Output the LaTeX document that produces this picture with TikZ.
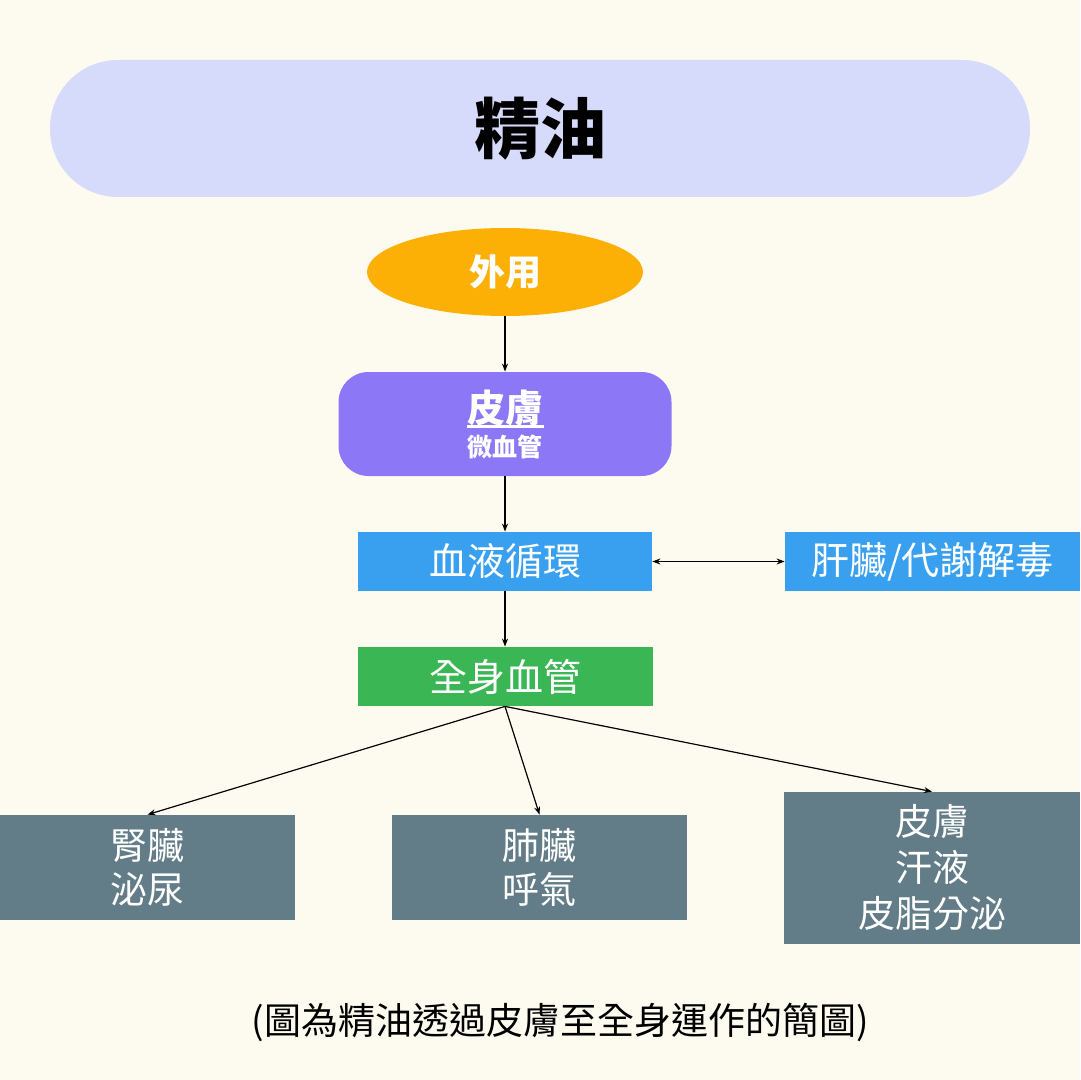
\documentclass[tikz,border=0pt]{standalone}
\usepackage{fontspec}
\setmainfont{Noto Sans CJK TC}
\usetikzlibrary{shapes.geometric,arrows.meta}
\definecolor{bgc}{HTML}{FDFBEF}
\definecolor{pillc}{HTML}{D6DAFB}
\definecolor{orangec}{HTML}{FCAF05}
\definecolor{purplec}{HTML}{8C77F7}
\definecolor{bluec}{HTML}{38A0EE}
\definecolor{greenc}{HTML}{3BB655}
\definecolor{grayc}{HTML}{627D87}
\tikzset{
  box/.style={rectangle, inner sep=0pt, text=white, align=center, font=\fontsize{19pt}{22pt}\selectfont},
  outbox/.style={box, fill=grayc, minimum width=147.5pt, minimum height=52.5pt, font=\fontsize{18.5pt}{22pt}\selectfont},
  arr/.style={-{Stealth[length=4pt,width=3pt]}, line width=0.6pt, black},
  darr/.style={{Stealth[length=4pt,width=3pt]}-{Stealth[length=4pt,width=3pt]}, line width=0.6pt, black}
}
\begin{document}
\begin{tikzpicture}[x=0.5pt,y=-0.5pt]
\fill[bgc] (0,0) rectangle (1080,1080);
\useasboundingbox (0,0) rectangle (1080,1080);
\node[rectangle, fill=pillc, rounded corners=34pt, minimum width=490pt, minimum height=68.5pt, inner sep=0pt, font=\fontsize{33pt}{36pt}\selectfont\bfseries] (title) at (540,128.5) {精油};
\node[ellipse, fill=orangec, minimum width=138pt, minimum height=44pt, inner sep=0pt, text=white, font=\fontsize{18pt}{20pt}\selectfont\bfseries] (ext) at (505,272) {外用};
\node[box, fill=purplec, rounded corners=15pt, minimum width=166.5pt, minimum height=52pt] (skin) at (505,424) {{\fontsize{19pt}{22pt}\selectfont\bfseries\rlap{\rule[-3pt]{38.5pt}{1.3pt}}皮膚}\\[-5pt]{\fontsize{12.5pt}{15pt}\selectfont\bfseries 微血管}};
\node[box, fill=bluec, minimum width=147pt, minimum height=29.5pt] (blood) at (505,561.5) {血液循環};
\node[box, fill=bluec, minimum width=147.5pt, minimum height=29.5pt] (liver) at (932.5,561.5) {肝臟/代謝解毒};
\node[box, fill=greenc, minimum width=147.5pt, minimum height=29.5pt] (vessel) at (505,676.5) {全身血管};
\node[outbox] (kidney) at (147.5,867.5) {腎臟\\泌尿};
\node[outbox] (lung) at (539.5,867.5) {肺臟\\呼氣};
\node[outbox, minimum width=148pt, minimum height=76pt, font=\fontsize{18.5pt}{23pt}\selectfont] (skin2) at (932,868) {皮膚\\汗液\\皮脂分泌};
\node[font=\fontsize{18.5pt}{22pt}\selectfont, text=black] (cap) at (560,1022) {(圖為精油透過皮膚至全身運作的簡圖)};
\draw[arr] (ext.south) -- (skin.north);
\draw[arr] (skin.south) -- (blood.north);
\draw[arr] (blood.south) -- (vessel.north);
\draw[darr] (blood.east) -- (liver.west);
\coordinate (vs) at (vessel.south);
\draw[arr] (vs) -- (kidney.north);
\draw[arr] (vs) -- (lung.north);
\draw[arr] (vs) -- (skin2.north);
\end{tikzpicture}
\end{document}
